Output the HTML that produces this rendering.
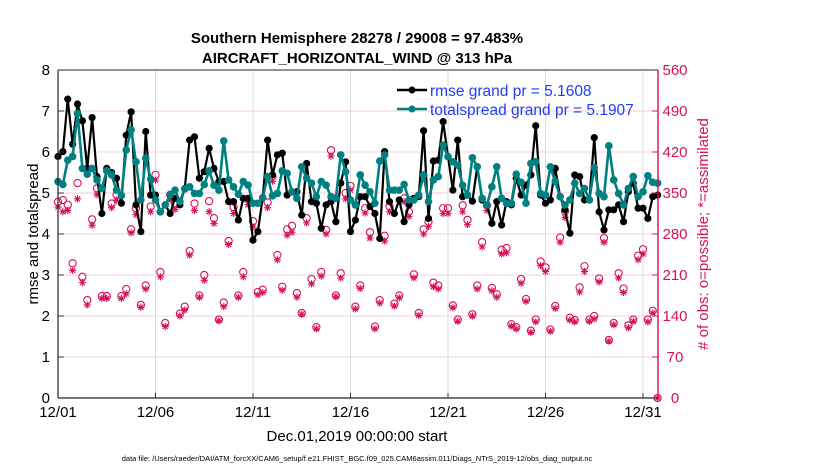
<!DOCTYPE html>
<html><head><meta charset="utf-8">
<style>
html,body{margin:0;padding:0;background:#fff;}
svg{display:block;font-family:"Liberation Sans",Arial,sans-serif;}
</style></head>
<body>
<svg id="chart" width="830" height="470" viewBox="0 0 830 470">
  <g id="grid"></g>
  <g id="obs"></g>
  <g id="lines"></g>
  <g id="axes"></g>
  <text x="357" y="43" text-anchor="middle" font-size="15" font-weight="bold">Southern Hemisphere 28278 / 29008 = 97.483%</text>
  <text x="357" y="63" text-anchor="middle" font-size="15" font-weight="bold">AIRCRAFT_HORIZONTAL_WIND @ 313 hPa</text>
  <text x="357" y="441" text-anchor="middle" font-size="15">Dec.01,2019 00:00:00 start</text>
  <text transform="translate(38,234) rotate(-90)" text-anchor="middle" font-size="15">rmse and totalspread</text>
  <text transform="translate(708,234) rotate(-90)" text-anchor="middle" font-size="15" fill="#d6115b"># of obs: o=possible; *=assimilated</text>
  <text x="357" y="461" text-anchor="middle" font-size="7.5">data file: /Users/raeder/DAI/ATM_forcXX/CAM6_setup/f.e21.FHIST_BGC.f09_025.CAM6assim.011/Diags_NTrS_2019-12/obs_diag_output.nc</text>
  <g>
    <g>
      <line x1="397" y1="90" x2="427" y2="90" stroke="#000" stroke-width="2.5"/>
      <circle cx="412" cy="90" r="3.5" fill="#000"/>
      <text x="430" y="96" font-size="15.5" fill="#1f3df5">rmse grand pr = 5.1608</text>
    </g>
    <g>
      <line x1="397" y1="109" x2="427" y2="109" stroke="#008080" stroke-width="2.5"/>
      <circle cx="412" cy="109" r="3.5" fill="#008080"/>
      <text x="430" y="115" font-size="15.5" fill="#1f3df5">totalspread grand pr = 5.1907</text>
    </g>
  </g>
</svg>
<script>
const xTickLabels = ["12/01","12/06","12/11","12/16","12/21","12/26","12/31"];
const xTickDays = [0,5,10,15,20,25,30];
const yTicks = [0,1,2,3,4,5,6,7,8];
const yRightTicks = [0,70,140,210,280,350,420,490,560];
const rmse = [5.89,6.01,7.29,6.19,7.17,6.76,5.60,6.84,5.40,4.50,5.60,5.50,5.36,4.75,6.41,6.98,4.71,4.06,6.50,4.95,4.95,4.54,4.71,4.50,4.87,4.71,5.11,6.29,6.37,5.36,5.52,6.09,5.60,5.28,5.28,4.79,4.79,4.34,4.87,4.87,3.85,4.06,
4.89,6.29,5.44,5.93,5.97,4.95,5.03,5.03,4.46,5.72,4.79,4.75,4.14,4.71,4.79,4.30,5.24,5.76,4.06,4.34,4.91,4.91,4.67,4.50,3.89,6.01,4.79,4.50,4.83,4.30,4.71,4.87,4.91,6.52,4.38,5.78,5.80,6.74,5.89,
5.07,6.29,4.91,4.95,4.80,5.64,4.83,4.71,4.26,4.79,4.22,4.79,4.71,5.36,4.95,5.19,5.44,6.64,4.95,4.75,4.83,5.60,4.91,4.59,4.02,5.44,5.40,4.83,4.83,6.35,4.54,4.10,4.59,4.59,4.71,4.30,5.03,5.24,4.63,4.63,4.38,4.91,4.95];
const spread = [5.28,5.21,5.80,5.89,6.94,5.60,5.46,5.60,5.32,5.11,5.54,5.44,5.07,4.94,6.05,6.54,5.76,4.83,5.85,5.34,4.83,4.54,4.71,4.95,5.07,4.79,5.10,5.15,4.99,4.99,5.21,5.54,5.19,5.07,6.27,5.32,5.15,4.97,5.28,5.19,4.75,4.75,
4.89,5.40,4.93,4.99,5.54,5.48,5.03,4.87,5.64,5.36,5.24,4.91,5.28,5.19,4.91,4.87,5.93,5.52,4.83,4.71,5.44,5.19,5.03,4.75,5.78,5.93,5.07,5.07,5.07,5.21,4.83,4.83,4.95,5.44,4.79,5.32,5.40,6.17,5.89,
5.76,5.68,5.19,4.95,5.86,5.64,4.87,4.71,5.15,5.64,4.87,4.75,4.75,5.46,5.26,4.75,5.72,5.76,4.99,4.95,5.64,5.28,4.91,4.71,4.83,5.24,4.99,5.11,4.83,5.62,4.99,4.91,6.15,5.32,4.99,4.71,5.11,5.40,4.91,5.03,5.42,5.26,5.24];
const obsPossible = [335,338,330,230,367,207,167,305,358,174,174,332,347,174,186,288,324,159,192,327,381,215,128,347,332,144,156,251,332,175,210,336,307,134,163,268,326,175,215,340,302,181,185,334,378,244,190,288,294,179,145,307,203,121,215,287,423,175,213,350,362,156,
192,324,283,122,167,277,327,161,175,341,318,211,145,288,301,197,192,324,324,158,134,329,304,143,192,266,329,188,177,253,256,126,121,203,169,115,134,233,223,117,157,274,319,137,133,189,225,134,140,204,273,99,128,213,187,124,134,243,254,134,149,0];
const obsAssim = [326,318,320,218,340,197,159,295,347,170,170,325,338,170,178,282,313,155,186,318,372,207,122,338,322,140,150,244,320,172,201,318,298,132,156,262,315,172,207,330,292,176,180,325,370,236,184,278,283,172,143,299,195,118,208,280,413,173,205,340,355,152,
187,316,273,118,162,268,318,157,171,335,310,205,141,280,293,190,186,315,315,154,131,318,296,140,186,258,320,183,172,246,248,123,118,196,165,112,130,226,216,114,153,266,308,133,130,181,216,131,135,198,266,97,125,205,180,120,131,236,246,130,145,0];

const NS="http://www.w3.org/2000/svg";
const X0=58,X1=658,Y0=398,Y1=70;
const xDay=d=>X0+d*19.5;
const xIdx=i=>xDay(i/4);
const yL=v=>Y0-(v/8)*(Y0-Y1);
const yR=v=>Y0-(v/560)*(Y0-Y1);
function mk(tag,attrs,parent){const e=document.createElementNS(NS,tag);for(const k in attrs)e.setAttribute(k,attrs[k]);parent.appendChild(e);return e;}
const grid=document.getElementById('grid'),axes=document.getElementById('axes'),obs=document.getElementById('obs'),lines=document.getElementById('lines');
const PINK="#d6115b";

xTickDays.forEach((d,k)=>{
  const x=xDay(d);
  const g=mk('line',{x1:x,y1:Y1,x2:x,y2:Y0,stroke:'#dcdcdc','stroke-width':1},grid);
  
  
  mk('line',{x1:x,y1:Y0,x2:x,y2:Y0-5,stroke:'#333','stroke-width':1},axes);
  const t=mk('text',{x:x,y:Y0+19,'text-anchor':'middle','font-size':15},axes);
  t.textContent=xTickLabels[k];
  
  
});
yRightTicks.forEach(v=>{
  const y=yR(v);
  if(v>0&&v<560){
    const g=mk('line',{x1:X0,y1:y,x2:X1,y2:y,stroke:'#f5cfdc','stroke-width':1},grid);
    
    
  }
  mk('line',{x1:X1,y1:y,x2:X1-6,y2:y,stroke:PINK,'stroke-width':1},axes);
  const t=mk('text',{x:X1+17,y:y+5,'text-anchor':'middle','font-size':15,fill:PINK},axes);
  t.textContent=v;
  
  
});
yTicks.forEach(v=>{
  const y=yL(v);
  mk('line',{x1:X0,y1:y,x2:X0+6,y2:y,stroke:'#333','stroke-width':1},axes);
  const t=mk('text',{x:X0-8,y:y+5,'text-anchor':'end','font-size':15},axes);
  t.textContent=v;
  
  
});
mk('line',{x1:X0,y1:Y1,x2:X0,y2:Y0,stroke:'#262626','stroke-width':1.2},axes);
mk('line',{x1:X0,y1:Y0,x2:X1,y2:Y0,stroke:'#262626','stroke-width':1.2},axes);
mk('line',{x1:X0,y1:Y1,x2:X1,y2:Y1,stroke:'#262626','stroke-width':1},axes);
mk('line',{x1:X1,y1:Y1,x2:X1,y2:Y0,stroke:PINK,'stroke-width':1.4},axes);

obsPossible.forEach((v,i)=>{
  const c=mk('circle',{cx:xIdx(i),cy:yR(v),r:3.6,fill:'none',stroke:PINK,'stroke-width':1.1},obs);
  
  
});
obsAssim.forEach((v,i)=>{
  const x=xIdx(i),y=yR(v),s=3.6;
  const p=mk('path',{d:`M${x-s},${y}H${x+s}M${x},${y-s}V${y+s}M${x-2.6},${y-2.6}L${x+2.6},${y+2.6}M${x-2.6},${y+2.6}L${x+2.6},${y-2.6}`,stroke:PINK,'stroke-width':1.1,fill:'none'},obs);
  
  
});

function series(arr,color,name,r,w){
  const d=arr.map((v,i)=>(i?'L':'M')+xIdx(i).toFixed(2)+','+yL(v).toFixed(2)).join('');
  const p=mk('path',{d:d,fill:'none',stroke:color,'stroke-width':w,'stroke-linejoin':'round'},lines);
  
  
  arr.forEach((v,i)=>{
    const c=mk('circle',{cx:xIdx(i),cy:yL(v),r:r,fill:color},lines);
    
    
  });
}
series(rmse,'#000','rmse',3.6,2.2);
series(spread,'#008080','totalspread',3.8,2.6);
</script>
</body></html>
